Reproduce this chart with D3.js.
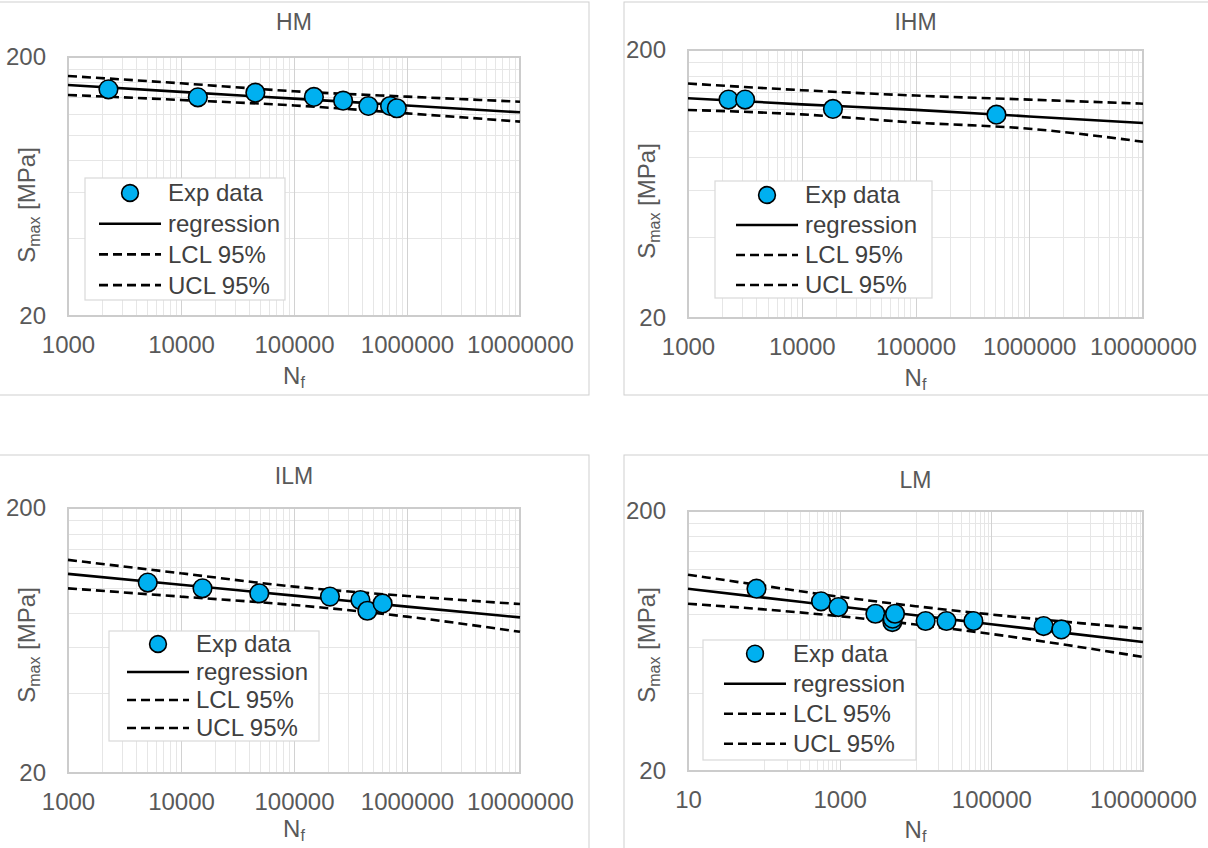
<!DOCTYPE html>
<html><head><meta charset="utf-8">
<script src="https://cdn.jsdelivr.net/npm/d3@7"></script>
<style>body{margin:0;background:#fff;} svg{display:block;font-family:"Liberation Sans",Arial,sans-serif;}</style>
</head><body><svg id="c" width="1208" height="848"></svg>
<script>
// ---------- DATA ----------
const legendLabels = ["Exp data", "regression", "LCL 95%", "UCL 95%"];
const yTickLabels = [20, 200];
const xTicksA = [1000, 10000, 100000, 1000000, 10000000];
const xTicksLM = [10, 1000, 100000, 10000000];

// HM
const hmN = [2280, 14100, 45500, 150000, 272000, 455000, 708000, 813000];
const hmS = [150.0, 139.8, 145.6, 140.2, 135.7, 129.4, 129.4, 126.8];
const hmCurveN = [1e3, 1e4, 1e5, 1e6, 1e7];
const hmReg = [156.0, 146.7, 138.1, 130.0, 122.3];
const hmUCL = [168.9, 158.3, 147.5, 140.6, 134.4];
const hmLCL = [142.7, 136.5, 130.0, 121.2, 112.6];

// IHM
const ihmN = [2270, 3180, 18800, 515000];
const ihmS = [130.6, 130.6, 120.5, 114.7];
const ihmCurveN = [1e3, 1e4, 1e5, 1e6, 1e7];
const ihmReg = [132.1, 125.4, 119.6, 113.0, 106.8];
const ihmUCL = [149.9, 141.6, 135.2, 130.6, 126.1];
const ihmLCL = [119.5, 115.0, 107.2, 101.7, 90.9];

// ILM
const ilmN = [5080, 15500, 49300, 208000, 387000, 446000, 608000];
const ilmS = [104.6, 99.5, 95.3, 92.6, 89.9, 81.9, 87.3];
const ilmCurveN = [1e3, 1e4, 1e5, 1e6, 1e7];
const ilmReg = [112.8, 102.6, 93.4, 84.9, 77.3];
const ilmUCL = [127.4, 113.4, 101.0, 93.1, 86.8];
const ilmLCL = [99.5, 92.6, 86.1, 77.8, 68.2];

// LM
const lmN = [80, 568, 962, 2960, 4950, 5000, 5370, 13600, 25600, 58000, 489000, 838000];
const lmS = [100.5, 89.9, 85.4, 80.5, 74.8, 77.1, 80.5, 75.5, 75.5, 75.5, 72.2, 70.1];
const lmCurveN = [1e1, 1e2, 1e3, 1e4, 1e5, 1e6, 1e7];
const lmReg = [100.5, 92.9, 85.9, 79.4, 73.4, 67.8, 62.7];
const lmUCL = [113.8, 103.1, 93.6, 86.1, 80.0, 74.9, 70.5];
const lmLCL = [88.0, 83.7, 78.8, 73.2, 67.3, 61.0, 54.9];

// ---------- LAYOUT ----------
const panels = [
  {title:"HM", N:hmN, S:hmS, cN:hmCurveN, reg:hmReg, ucl:hmUCL, lcl:hmLCL, xTicks:xTicksA, base:10,
   frame:{x:-10,y:2,w:599,h:393}, plot:{x0:68,x1:520,y0:57,y1:316}, titleY:22, yTitleOff:18.5, nOff:60,
   legend:{x:85,y:178,w:200,h:122,r0:15,gap:30.7,lx:14}},
  {title:"IHM", N:ihmN, S:ihmS, cN:ihmCurveN, reg:ihmReg, ucl:ihmUCL, lcl:ihmLCL, xTicks:xTicksA, base:10,
   frame:{x:624,y:2,w:600,h:393}, plot:{x0:688,x1:1143,y0:50,y1:318}, titleY:21.5, yTitleOff:17, nOff:60,
   legend:{x:715,y:181,w:217,h:117,r0:14,gap:30,lx:21}},
  {title:"ILM", N:ilmN, S:ilmS, cN:ilmCurveN, reg:ilmReg, ucl:ilmUCL, lcl:ilmLCL, xTicks:xTicksA, base:10,
   frame:{x:-10,y:455,w:599,h:420}, plot:{x0:68,x1:520,y0:508,y1:773}, titleY:476, yTitleOff:4.5, nOff:56,
   legend:{x:109,y:631,w:210,h:110,r0:13,gap:28,lx:18}},
  {title:"LM", N:lmN, S:lmS, cN:lmCurveN, reg:lmReg, ucl:lmUCL, lcl:lmLCL, xTicks:xTicksLM, base:100,
   frame:{x:624,y:455,w:600,h:420}, plot:{x0:688,x1:1143,y0:511,y1:771}, titleY:480, yTitleOff:4, nOff:59,
   legend:{x:703,y:640,w:213,h:120,r0:13.7,gap:30,lx:21}}
];

const svg = d3.select("#c");
const TXT = "#595959";
const MINOR = "#e6e6e6", MAJOR = "#d2d2d2";
const BLUE = "#00b0f0";
const DASH = "9,5";

panels.forEach(p => {
  const g = svg.append("g");
  const x = d3.scaleLog().domain([p.xTicks[0], p.xTicks[p.xTicks.length-1]]).range([p.plot.x0, p.plot.x1]);
  const y = d3.scaleLog().domain([yTickLabels[0], yTickLabels[1]]).range([p.plot.y1, p.plot.y0]);

  g.append("rect").attr("x", p.frame.x).attr("y", p.frame.y).attr("width", p.frame.w).attr("height", p.frame.h)
    .attr("fill", "#fff").attr("stroke", "#cfcfcf").attr("stroke-width", 1);

  // gridline values from the axis structure
  const majors = p.xTicks;
  const xMinor = [];
  for (let i = 0; i < majors.length - 1; i++) {
    const M = majors[i];
    if (p.base === 10) { for (let k = 2; k <= 9; k++) xMinor.push(k * M); }
    else { for (let k = 1; k <= 9; k++) xMinor.push(k * 10 * M); }
  }
  const yMinor = [];
  for (let k = 2; k <= 9; k++) yMinor.push(k * yTickLabels[0]);

  const grid = g.append("g").attr("shape-rendering", "crispEdges");
  grid.selectAll(".yminor").data(yMinor).join("line")
    .attr("x1", p.plot.x0).attr("x2", p.plot.x1).attr("y1", d => Math.round(y(d)) + 0.5).attr("y2", d => Math.round(y(d)) + 0.5)
    .attr("stroke", MINOR);
  grid.selectAll(".xminor").data(xMinor).join("line")
    .attr("y1", p.plot.y0).attr("y2", p.plot.y1).attr("x1", d => Math.round(x(d)) + 0.5).attr("x2", d => Math.round(x(d)) + 0.5)
    .attr("stroke", MINOR);
  grid.selectAll(".xmajor").data(majors.slice(1, -1)).join("line")
    .attr("y1", p.plot.y0).attr("y2", p.plot.y1).attr("x1", d => Math.round(x(d)) + 0.5).attr("x2", d => Math.round(x(d)) + 0.5)
    .attr("stroke", MAJOR);

  g.append("rect").attr("x", p.plot.x0).attr("y", p.plot.y0)
    .attr("width", p.plot.x1 - p.plot.x0).attr("height", p.plot.y1 - p.plot.y0)
    .attr("fill", "none").attr("stroke", "#cccccc").attr("stroke-width", 2);

  // axes
  const xa = g.append("g").attr("transform", `translate(0,${p.plot.y1})`)
    .call(d3.axisBottom(x).tickValues(p.xTicks).tickFormat(d3.format("d")).tickSize(0).tickPadding(20));
  xa.select(".domain").remove();
  xa.selectAll("text").attr("font-size", 24).attr("fill", TXT).attr("font-family", "Liberation Sans, Arial, sans-serif");
  const ya = g.append("g").attr("transform", `translate(${p.plot.x0},0)`)
    .call(d3.axisLeft(y).tickValues(yTickLabels).tickFormat(d3.format("d")).tickSize(0).tickPadding(22));
  ya.select(".domain").remove();
  ya.selectAll("text").attr("font-size", 24).attr("fill", TXT).attr("font-family", "Liberation Sans, Arial, sans-serif").attr("dy", "0.3em");

  // titles
  const cx = (p.plot.x0 + p.plot.x1) / 2;
  g.append("text").attr("x", cx).attr("y", p.titleY).attr("dy", "0.35em").attr("text-anchor", "middle")
    .attr("font-size", 23).attr("fill", TXT).text(p.title);
  const nt = g.append("text").attr("x", cx).attr("y", p.plot.y1 + p.nOff).attr("dy", "0.35em").attr("text-anchor", "middle")
    .attr("font-size", 24).attr("fill", TXT);
  nt.append("tspan").text("N");
  nt.append("tspan").attr("font-size", 16).attr("dy", 4).text("f");
  const cy = (p.plot.y0 + p.plot.y1) / 2 + p.yTitleOff;
  const st = g.append("text").attr("transform", `translate(${p.plot.x0 - 41},${cy}) rotate(-90)`)
    .attr("dy", "0.35em").attr("text-anchor", "middle").attr("font-size", 24).attr("fill", TXT);
  st.append("tspan").text("S");
  st.append("tspan").attr("font-size", 16).attr("dy", 5).text("max");
  st.append("tspan").attr("dy", -5).text(" [MPa]");

  // curves
  const line = d3.line().x(d => x(d[0])).y(d => y(d[1])).curve(d3.curveMonotoneX);
  const series = [
    {v: p.reg, dash: null},
    {v: p.lcl, dash: DASH},
    {v: p.ucl, dash: DASH}
  ];
  series.forEach(s => {
    g.append("path").datum(p.cN.map((n, i) => [n, s.v[i]])).attr("d", line)
      .attr("fill", "none").attr("stroke", "#000").attr("stroke-width", 2.6)
      .attr("stroke-dasharray", s.dash);
  });

  // points
  g.selectAll(".pt").data(p.N.map((n, i) => [n, p.S[i]])).join("circle")
    .attr("cx", d => x(d[0])).attr("cy", d => y(d[1])).attr("r", 9.3)
    .attr("fill", BLUE).attr("stroke", "#000").attr("stroke-width", 1.6);

  // legend
  const L = p.legend;
  const lg = g.append("g");
  lg.append("rect").attr("x", L.x).attr("y", L.y).attr("width", L.w).attr("height", L.h)
    .attr("fill", "#fff").attr("stroke", "#d9d9d9").attr("stroke-width", 1.2);
  legendLabels.forEach((lab, i) => {
    const ry = L.y + L.r0 + i * L.gap;
    const lx0 = L.x + L.lx, lx1 = lx0 + 62;
    if (i === 0) {
      lg.append("circle").attr("cx", (lx0 + lx1) / 2).attr("cy", ry).attr("r", 8.4)
        .attr("fill", BLUE).attr("stroke", "#000").attr("stroke-width", 1.6);
    } else {
      lg.append("line").attr("x1", lx0).attr("x2", lx1).attr("y1", ry).attr("y2", ry)
        .attr("stroke", "#000").attr("stroke-width", 2.6).attr("stroke-dasharray", i === 1 ? null : DASH);
    }
    lg.append("text").attr("x", lx1 + 7).attr("y", ry).attr("dy", "0.35em")
      .attr("font-size", 24).attr("fill", "#404040").text(lab);
  });
});
</script>
</body></html>
